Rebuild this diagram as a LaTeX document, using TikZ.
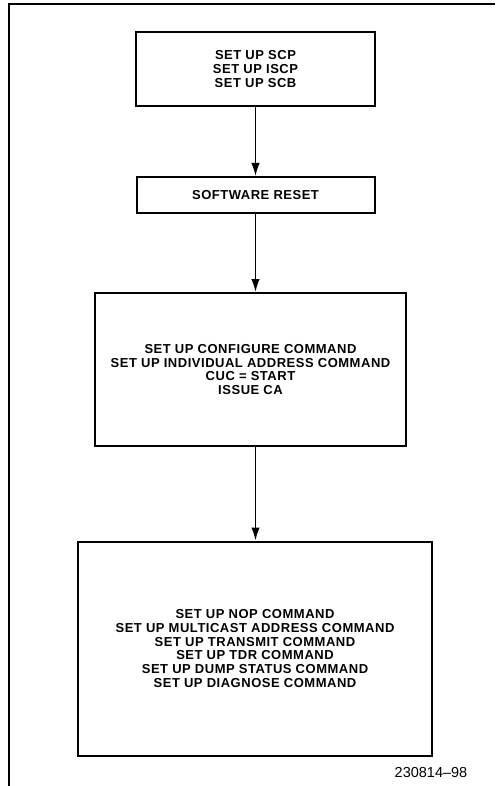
\documentclass[tikz,border=0pt]{standalone}
\usepackage{fontspec}
\setmainfont{Liberation Sans}
\usetikzlibrary{arrows.meta}
\tikzset{
  stepbox/.style={draw,line width=2pt,align=center,inner sep=0pt,
    font=\bfseries\fontsize{13}{13.7}\selectfont\addfontfeature{LetterSpace=4}},
  flow/.style={-{Latex[length=13pt,width=8.5pt]},line width=1.6pt}
}
\begin{document}
\begin{tikzpicture}[x=1pt,y=-1pt]
 \useasboundingbox (0,0) rectangle (495,786);
 % page frame
 \draw[line width=2pt] (495,4) -- (9,4) -- (9,786);
 \node[stepbox,minimum width=239pt,minimum height=74pt] (scp) at (255.5,69)
   {SET UP SCP\\SET UP ISCP\\SET UP SCB};
 \node[stepbox,minimum width=238pt,minimum height=36pt] (reset) at (255.5,195)
   {SOFTWARE RESET};
 \node[stepbox,minimum width=311pt,minimum height=153pt] (config) at (250.5,369.5)
   {SET UP CONFIGURE COMMAND\\SET UP INDIVIDUAL ADDRESS COMMAND\\CUC = START\\ISSUE CA};
 \node[stepbox,minimum width=354pt,minimum height=214pt] (cmds) at (255,648.5)
   {SET UP NOP COMMAND\\SET UP MULTICAST ADDRESS COMMAND\\SET UP TRANSMIT COMMAND\\%
    SET UP TDR COMMAND\\SET UP DUMP STATUS COMMAND\\SET UP DIAGNOSE COMMAND};
 \draw[flow] (scp.south) -- (reset.north);
 \draw[flow] (reset.south) -- (config.north -| reset.south);
 \draw[flow] (config.south -| reset.south) -- (cmds.north -| reset.south);
 \node[font=\fontsize{14.5}{16}\selectfont,inner sep=0pt] (figno) at (431,772) {230814--98};
\end{tikzpicture}
\end{document}
